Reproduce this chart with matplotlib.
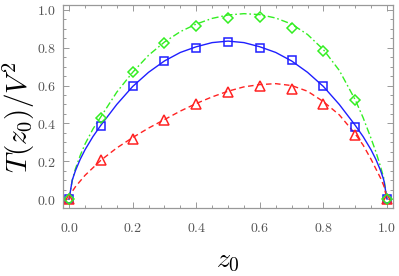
import matplotlib
matplotlib.use("Agg")
import matplotlib.pyplot as plt
from matplotlib.ticker import MultipleLocator, FuncFormatter

plt.rcParams['mathtext.fontset'] = 'cm'
plt.rcParams['font.family'] = 'serif'
plt.rcParams['font.serif'] = ['DejaVu Serif']

# sampled points (markers)
z_pts = [0.0, 0.1, 0.2, 0.3, 0.4, 0.5, 0.6, 0.7, 0.8, 0.9, 1.0]
blue_pts = [0.0, 0.385, 0.60, 0.73, 0.80, 0.83, 0.80, 0.737, 0.597, 0.38, 0.0]
green_pts = [0.0, 0.43, 0.67, 0.825, 0.915, 0.955, 0.96, 0.905, 0.78, 0.525, 0.0]
red_pts = [0.0, 0.205, 0.315, 0.42, 0.505, 0.565, 0.60, 0.58, 0.505, 0.34, 0.0]

# curves
z_curve = [0.0, 0.01, 0.02, 0.035, 0.05, 0.075, 0.1, 0.15, 0.2, 0.25, 0.3, 0.35, 0.4, 0.45,
           0.5, 0.55, 0.6, 0.65, 0.7, 0.75, 0.8, 0.85, 0.9, 0.925, 0.95, 0.965, 0.98, 0.99, 1.0]
blue_curve = [0.0, 0.10, 0.15, 0.21, 0.26, 0.33, 0.39, 0.50, 0.595, 0.67, 0.73, 0.775, 0.805, 0.827,
              0.835, 0.827, 0.805, 0.775, 0.73, 0.67, 0.595, 0.50, 0.39, 0.33, 0.26, 0.21, 0.15, 0.10, 0.0]
green_curve = [0.0, 0.10, 0.16, 0.23, 0.29, 0.37, 0.435, 0.565, 0.67, 0.76, 0.83, 0.885, 0.925, 0.955,
               0.973, 0.98, 0.975, 0.957, 0.925, 0.87, 0.79, 0.68, 0.525, 0.43, 0.32, 0.25, 0.17, 0.11, 0.0]
red_curve = [0.0, 0.04, 0.065, 0.095, 0.125, 0.165, 0.205, 0.27, 0.325, 0.375, 0.42, 0.465, 0.505, 0.54,
             0.57, 0.593, 0.605, 0.61, 0.60, 0.57, 0.515, 0.445, 0.345, 0.285, 0.21, 0.16, 0.11, 0.07, 0.0]

fig = plt.figure(figsize=(3.99, 2.76), dpi=100)
ax = fig.add_axes([0.158, 0.246, 0.827, 0.736])

blue = '#1f1fff'
green = '#33ee22'
red = '#ff2222'

ax.plot(z_curve, green_curve, color=green, lw=1.0, dashes=[5, 2, 1.2, 2])
ax.plot(z_curve, blue_curve, color=blue, lw=1.0)
ax.plot(z_curve, red_curve, color=red, lw=1.0, dashes=[4, 2.5])

ax.plot(z_pts, blue_pts, 's', ms=6, mfc='none', mec=blue, mew=1.1)
ax.plot(z_pts, red_pts, '^', ms=7, mfc='none', mec=red, mew=1.1)
ax.plot(z_pts, green_pts, 'D', ms=5.5, mfc='none', mec=green, mew=1.1)

ax.set_xlim(-0.019, 1.019)
ax.set_ylim(-0.048, 1.026)
ax.xaxis.set_major_locator(MultipleLocator(0.2))
ax.xaxis.set_minor_locator(MultipleLocator(0.05))
ax.yaxis.set_major_locator(MultipleLocator(0.2))
ax.yaxis.set_minor_locator(MultipleLocator(0.05))
fmt = FuncFormatter(lambda v, p: r'$%.1f$' % v)
ax.xaxis.set_major_formatter(fmt)
ax.yaxis.set_major_formatter(fmt)

for s in ax.spines.values():
    s.set_color('#999999')
    s.set_linewidth(0.9)
ax.tick_params(which='both', direction='in', top=True, right=True, color='#999999', width=0.7)
ax.tick_params(which='major', length=4.5, labelsize=10, labelcolor='#555555')
ax.tick_params(axis='y', which='major', pad=5)
ax.tick_params(axis='x', which='major', pad=9)
ax.tick_params(which='minor', length=2.5)

ax.set_xlabel(r'$z_0$', fontsize=20, labelpad=9)
ax.set_ylabel(r'$T(z_0)/V^2$', fontsize=21, va='center', ha='center')
ax.yaxis.set_label_coords(-0.135, 0.445)

fig.savefig('out.png', dpi=100)
